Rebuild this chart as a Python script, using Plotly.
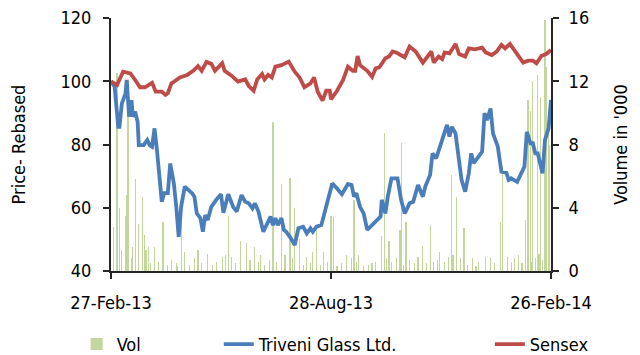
import datetime as dt
import plotly.graph_objects as go

START = dt.date(2013, 2, 27)

# Triveni Glass Ltd. (rebased) : day offset from 27-Feb-13, value
triveni_day = [0, 3, 6, 7, 9, 12, 13, 15, 17, 18, 20, 22, 23, 27, 30, 32, 34, 36, 38, 40,
               42, 44, 47, 49, 52, 54, 56, 58, 61, 67, 69, 71, 74, 76, 78, 80, 83, 87, 91, 93,
               97, 101, 104, 108, 111, 114, 117, 119, 122, 126, 129, 132, 134, 136, 138, 141, 143, 145, 148, 152,
               155, 159, 162, 165, 167, 170, 174, 177, 180, 183, 187, 191, 196, 199, 201, 203, 206, 209, 212, 216,
               220, 223, 224, 227, 229, 232, 237, 240, 243, 245, 247, 250, 252, 254, 258, 260, 264, 266, 269, 272,
               275, 278, 280, 282, 285, 287, 290, 293, 296, 298, 300, 303, 307, 309, 311, 314, 316, 320, 323, 327,
               329, 331, 336, 340, 342, 344, 347, 349, 351, 353, 355, 357, 359, 362, 364]
triveni_val = [100, 98.3, 85.6, 85.6, 93, 96.2, 100.4, 88.8, 94, 88.8, 90.4, 87.2, 79.8, 79.8, 81.4, 79.8, 79.3, 85.1, 78.3, 69.8,
               61.9, 64.6, 64.6, 74, 67.7, 60.3, 50.8, 60.3, 66.7, 64.6, 63.5, 58.2, 56.7, 52.4, 57.7, 56.1, 60.3, 62.5, 64.3, 58.4,
               64.3, 60.3, 58.8, 64, 61.9, 61.4, 59.8, 61.4, 58.8, 52.4, 55.1, 57.2, 54.5, 56.7, 54.5, 56.7, 53, 52.4, 50.8, 48.2,
               53.5, 54, 51.9, 53.5, 52.4, 54, 54.5, 59.3, 63.5, 67.7, 66.1, 64.3, 67.5, 67.2, 63.5, 64.6, 60.3, 58.2, 53, 54.5,
               56.1, 57.2, 62.5, 58.2, 63.5, 69.3, 69.3, 62.5, 58.2, 59.8, 61.4, 61.9, 64.6, 67.2, 63.5, 66.7, 70.4, 77.2, 75.6, 79.3,
               82.5, 86.2, 82.5, 85.6, 83.5, 78.3, 68.8, 65.1, 70.9, 77.2, 74.1, 75.6, 77.7, 89.9, 87.7, 91.4, 83.5, 79.3, 71.4, 71.1,
               68.8, 69.3, 68.2, 71.4, 73, 84, 80.4, 80.4, 77.2, 77.2, 74.1, 70.9, 81.4, 85.1, 94.1]

# Sensex (rebased)
sensex_day = [0, 5, 10, 16, 20, 24, 28, 34, 37, 42, 45, 47, 50, 57, 63, 68, 72, 75, 79, 83,
              86, 92, 94, 100, 105, 111, 114, 118, 121, 125, 127, 130, 133, 136, 141, 147, 152, 156, 160, 165,
              168, 171, 175, 178, 181, 182, 187, 192, 196, 200, 202, 204, 206, 212, 216, 219, 222, 227, 230, 233,
              236, 243, 247, 252, 258, 261, 265, 267, 271, 274, 276, 280, 285, 288, 293, 296, 301, 307, 310, 315,
              319, 323, 326, 330, 336, 341, 345, 349, 352, 356, 360, 364]
sensex_val = [100, 98.8, 103, 102.5, 100.4, 98.1, 98.1, 99.5, 96.7, 96.7, 95.7, 96.2, 99.3, 101.2, 102, 103.3, 104.8, 103.3, 106.1, 105.5,
              103.3, 105.7, 103.3, 101.7, 99.9, 100.6, 98.5, 97, 100.6, 102.3, 100.6, 102, 101.2, 104.6, 105.1, 106.2, 103, 101.2, 98.1, 99.3,
              101.2, 96.7, 93.9, 97, 97, 94.3, 97, 100.4, 104.6, 103.3, 103.3, 108, 105.1, 103.3, 101.4, 104.1, 104.4, 107.3, 107.8, 109.4,
              109.1, 107.6, 111, 109.4, 105.9, 107.6, 109.4, 105.9, 107.8, 107, 109.1, 108.8, 111.8, 108.6, 107.8, 110.4, 110.1, 110.6, 109.1, 108.3,
              109.4, 111.5, 110.4, 111.8, 108.3, 105.9, 106.5, 106.5, 105.7, 108, 108.6, 109.9]

# Volume ('000)
vol_day = [2, 5, 7, 9, 12, 13, 14, 17, 18, 20, 23, 26, 28, 29, 31, 33, 36, 39, 43, 47,
           50, 54, 55, 58, 61, 65, 69, 72, 75, 80, 84, 87, 92, 95, 97, 100, 103, 107, 112, 115,
           119, 122, 124, 127, 131, 134, 137, 141, 144, 148, 150, 152, 156, 159, 162, 165, 167, 170, 173, 176,
           179, 182, 184, 187, 191, 195, 199, 201, 203, 205, 209, 213, 216, 219, 224, 226, 228, 230, 232, 236,
           239, 240, 242, 244, 247, 251, 254, 258, 261, 264, 267, 270, 272, 276, 279, 282, 283, 286, 289, 292,
           295, 299, 302, 304, 310, 314, 317, 322, 324, 328, 331, 334, 337, 340, 343, 345, 347, 348, 349, 351,
           353, 354, 355, 357, 359, 360, 362, 363]
vol_val = [2.8, 12.5, 4.0, 1.3, 3.5, 4.8, 12.0, 0.8, 1.5, 5.8, 3.0, 4.7, 2.3, 1.3, 1.5, 0.5, 1.5, 0.6, 3.1, 0.4,
           0.7, 0.5, 0.3, 3.2, 1.2, 0.4, 0.8, 1.3, 0.5, 1.1, 0.4, 0.6, 0.9, 1.0, 3.5, 0.9, 0.5, 1.9, 1.8, 0.7,
           1.5, 0.6, 1.0, 0.4, 0.7, 9.4, 0.6, 5.5, 1.0, 5.9, 0.8, 4.0, 2.0, 0.4, 0.9, 0.5, 1.2, 2.6, 0.4, 1.2,
           0.6, 3.5, 3.4, 0.3, 0.5, 1.0, 0.8, 4.5, 0.6, 1.0, 0.3, 0.4, 0.5, 0.6, 2.2, 8.7, 0.8, 1.9, 0.6, 0.8,
           2.6, 8.1, 0.4, 3.1, 0.7, 0.5, 0.9, 1.6, 0.5, 2.9, 0.6, 0.7, 1.2, 0.6, 0.9, 6.1, 1.0, 4.7, 0.8, 2.7,
           0.4, 0.8, 0.3, 0.6, 0.9, 0.8, 0.5, 3.1, 6.6, 0.9, 0.6, 0.8, 1.0, 0.5, 3.2, 10.8, 10.1, 0.6, 12.0, 0.8,
           12.4, 1.1, 11.0, 0.7, 15.9, 12.9, 9.1, 8.0]

x_tick_dates = ["2013-02-27", "2013-08-28", "2014-02-26"]
x_tick_text = ["27-Feb-13", "28-Aug-13", "26-Feb-14"]


def to_dates(days):
    return [(START + dt.timedelta(days=d)).isoformat() for d in days]


FONT = "DejaVu Sans Condensed, Liberation Sans, sans-serif"
FS = 18
AX = "#262626"

fig = go.Figure()
fig.add_trace(go.Bar(x=to_dates(vol_day), y=vol_val, name="Vol",
                     marker=dict(color="rgba(155,187,89,0.6)", line=dict(width=0)),
                     width=86400000, yaxis="y", legend="legend"))
fig.add_trace(go.Scatter(x=to_dates(triveni_day), y=triveni_val, name="Triveni Glass Ltd.",
                         mode="lines", line=dict(color="#4A7EBB", width=3.8), yaxis="y2",
                         legend="legend2"))
fig.add_trace(go.Scatter(x=to_dates(sensex_day), y=sensex_val, name="Sensex",
                         mode="lines", line=dict(color="#BE4B48", width=3.8), yaxis="y2",
                         legend="legend3"))

leg = dict(orientation="h", yanchor="middle", y=-0.29, xanchor="left",
           font=dict(family=FONT, size=FS, color="#000"), bgcolor="rgba(0,0,0,0)")

fig.update_layout(
    width=640, height=355,
    margin=dict(l=111, r=89, t=18, b=84, autoexpand=False),
    paper_bgcolor="white", plot_bgcolor="white",
    font=dict(family=FONT, size=FS, color="#000"),
    showlegend=True, bargap=0,
    legend=dict(leg, x=-0.078),
    legend2=dict(leg, x=0.245),
    legend3=dict(leg, x=0.861),
    xaxis=dict(type="date", range=["2013-02-27", "2014-02-26"],
               tickvals=x_tick_dates, ticktext=x_tick_text,
               showline=True, linecolor=AX, linewidth=2, ticks="outside",
               ticklen=6, tickcolor=AX, tickwidth=1.5, showgrid=False, zeroline=False,
               ticklabelstandoff=8),
    yaxis=dict(range=[0, 16], tickvals=[0, 4, 8, 12, 16], side="right",
               showline=True, linecolor=AX, linewidth=2, ticks="outside",
               ticklen=6, tickcolor=AX, tickwidth=1.5, showgrid=False, zeroline=False,
               title=dict(text="Volume in '000", font=dict(size=FS), standoff=26),
               ticklabelstandoff=6),
    yaxis2=dict(range=[40, 120], tickvals=[40, 60, 80, 100, 120], side="left",
                overlaying="y", anchor="x",
                showline=True, linecolor=AX, linewidth=2, ticks="outside",
                ticklen=6, tickcolor=AX, tickwidth=1.5, showgrid=False, zeroline=False,
                title=dict(text="Price- Rebased", font=dict(size=FS), standoff=30),
                ticklabelstandoff=8),
)

fig.write_html("out.html")
